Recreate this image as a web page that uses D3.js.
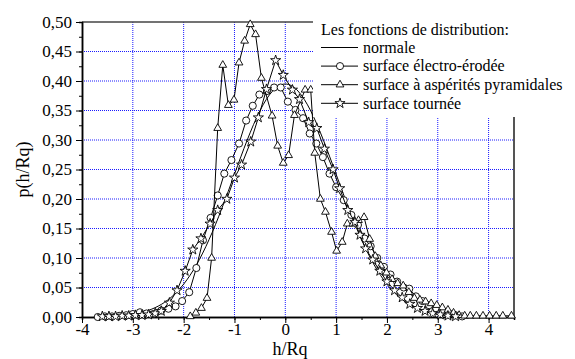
<!DOCTYPE html>
<html>
<head>
<meta charset="utf-8">
<script src="https://cdn.jsdelivr.net/npm/d3@7"></script>
<style>
  body { margin: 0; background: #fff; }
  svg text { font-family: "Liberation Serif", Tinos, "Times New Roman", Times, "DejaVu Serif", serif; fill: #000; }
</style>
</head>
<body>
<svg id="chart" width="575" height="359"></svg>
<script>
// values
var xTicks = [-4, -3, -2, -1, 0, 1, 2, 3, 4];
var yTicks = [0, 0.05, 0.10, 0.15, 0.20, 0.25, 0.30, 0.35, 0.40, 0.45, 0.50];

var normalX = [-3.75, -3.5, -3.25, -3, -2.75, -2.5, -2.25, -2, -1.75, -1.5, -1.25, -1, -0.75, -0.5, -0.25, 0,
  0.25, 0.5, 0.75, 1, 1.25, 1.5, 1.75, 2, 2.25, 2.5, 2.75, 3, 3.25, 3.5, 3.75];
var normalY = [0.0004, 0.0009, 0.002, 0.0044, 0.009, 0.0175, 0.0317, 0.054, 0.0863, 0.1295, 0.1826, 0.242, 0.3011, 0.3521, 0.3867, 0.399,
  0.3867, 0.3521, 0.3011, 0.242, 0.1826, 0.1295, 0.0863, 0.054, 0.0317, 0.0175, 0.009, 0.0044, 0.002, 0.0009, 0.0004];

var electroX = [-3.69, -3.55, -3.41, -3.27, -3.13, -3.0, -2.86, -2.73, -2.60, -2.44, -2.30, -2.16, -2.03, -1.89, -1.75, -1.62, -1.47, -1.33, -1.20,
  -1.06, -0.91, -0.77, -0.64, -0.51, -0.36, -0.22, -0.09, 0.05, 0.20, 0.35, 0.48, 0.61, 0.74, 0.87, 1.00, 1.15, 1.30, 1.43, 1.56, 1.68,
  1.81, 1.94, 2.07, 2.20, 2.33, 2.44, 2.57, 2.70, 2.83, 2.96, 3.09, 3.22, 3.35, 3.48];
var electroY = [0.000, 0.001, 0.001, 0.002, 0.003, 0.005, 0.008, 0.006, 0.005, 0.011, 0.014, 0.018, 0.027, 0.042, 0.083, 0.130, 0.168, 0.206, 0.243,
  0.266, 0.294, 0.333, 0.358, 0.377, 0.383, 0.389, 0.389, 0.365, 0.351, 0.337, 0.311, 0.294, 0.271, 0.243, 0.220, 0.198, 0.173, 0.156, 0.133, 0.120,
  0.100, 0.085, 0.072, 0.060, 0.050, 0.048, 0.035, 0.027, 0.020, 0.015, 0.010, 0.006, 0.003, 0.001];

var pyramX = [-1.87, -1.76, -1.65, -1.54, -1.45, -1.33, -1.23, -1.12, -1.01, -0.91, -0.80, -0.69, -0.585, -0.47, -0.26, -0.15, -0.04, 0.065, 0.18,
  0.39, 0.50, 0.58, 0.69, 0.79, 0.91, 1.01, 1.12, 1.22, 1.33, 1.44, 1.55, 1.66, 1.77, 1.88, 1.99, 2.10, 2.21, 2.32, 2.43, 2.54, 2.65,
  2.76, 2.87, 2.98, 3.09, 3.20, 3.31, 3.42, 3.53, 3.64, 3.76, 3.89, 4.02, 4.15, 4.28, 4.45];
var pyramY = [0.001, 0.007, 0.015, 0.032, 0.100, 0.320, 0.427, 0.359, 0.368, 0.431, 0.468, 0.496, 0.479, 0.405, 0.341, 0.290, 0.261, 0.274, 0.342,
  0.385, 0.385, 0.278, 0.200, 0.178, 0.144, 0.112, 0.127, 0.158, 0.158, 0.164, 0.169, 0.132, 0.103, 0.087, 0.075, 0.064, 0.057, 0.053, 0.042, 0.032, 0.029,
  0.026, 0.023, 0.020, 0.016, 0.012, 0.007, 0.003, 0.002, 0.002, 0.002, 0.002, 0.002, 0.002, 0.002, 0.002];

var tourneeX = [-3.60, -3.47, -3.34, -3.21, -3.08, -2.95, -2.82, -2.69, -2.56, -2.44, -2.28, -2.13, -1.97, -1.82, -1.66, -1.48, -1.33, -1.15, -1.00,
  -0.86, -0.68, -0.53, -0.37, -0.19, -0.04, 0.14, 0.28, 0.46, 0.62, 0.77, 0.94, 1.07, 1.23, 1.37, 1.47, 1.58, 1.72, 1.86, 2.00, 2.15, 2.30,
  2.45, 2.60, 2.75, 2.90, 3.05, 3.20, 3.35];
var tourneeY = [0.001, 0.001, 0.001, 0.002, 0.002, 0.003, 0.003, 0.004, 0.006, 0.010, 0.024, 0.045, 0.078, 0.114, 0.133, 0.158, 0.181, 0.200, 0.236,
  0.258, 0.297, 0.338, 0.386, 0.435, 0.410, 0.385, 0.369, 0.330, 0.320, 0.285, 0.250, 0.218, 0.181, 0.161, 0.139, 0.116, 0.097, 0.078, 0.060, 0.045, 0.033,
  0.022, 0.015, 0.010, 0.006, 0.004, 0.002, 0.001];

var legendTitle = "Les fonctions de distribution:";
var legendNames = ["normale", "surface électro-érodée", "surface à aspérités pyramidales", "surface tournée"];

var svg = d3.select("#chart");

var margin = {top: 22, right: 61, bottom: 42, left: 82};
var plotWidth = 575 - margin.left - margin.right;
var plotHeight = 359 - margin.top - margin.bottom;

var xScale = d3.scaleLinear().domain([-4, 4.5]).range([0, plotWidth]);
var yScale = d3.scaleLinear().domain([0, 0.5]).range([plotHeight, 0]);

var loc = d3.formatLocale({decimal: ",", thousands: ".", grouping: [3], currency: ["", ""], minus: "-"});

var plot = svg.append("g")
  .attr("transform", "translate(" + margin.left + "," + margin.top + ")");

// dotted blue grid
plot.append("g").selectAll("line")
  .data(xTicks.filter(function(d){ return d > -4; }))
  .enter().append("line")
  .attr("x1", function(d){ return xScale(d); })
  .attr("x2", function(d){ return xScale(d); })
  .attr("y1", 0).attr("y2", plotHeight)
  .attr("stroke", "#1a1aff").attr("stroke-width", 1)
  .attr("stroke-dasharray", "1,1");
plot.append("g").selectAll("line")
  .data(yTicks.filter(function(d){ return d > 0 && d < 0.5; }))
  .enter().append("line")
  .attr("x1", 0).attr("x2", plotWidth)
  .attr("y1", function(d){ return yScale(d); })
  .attr("y2", function(d){ return yScale(d); })
  .attr("stroke", "#1a1aff").attr("stroke-width", 1)
  .attr("stroke-dasharray", "1,1");

// frame top / right
plot.append("line").attr("x1", 0).attr("x2", plotWidth).attr("y1", 0).attr("y2", 0)
  .attr("stroke", "#444").attr("stroke-width", 1.5);
plot.append("line").attr("x1", plotWidth).attr("x2", plotWidth).attr("y1", 0).attr("y2", plotHeight)
  .attr("stroke", "#555").attr("stroke-width", 2);

// axes
var minorX = d3.range(-4, 4.51, 0.5);
var minorY = d3.range(0, 0.501, 0.025);

var xMinor = plot.append("g").attr("transform", "translate(0," + plotHeight + ")")
  .call(d3.axisBottom(xScale).tickValues(minorX).tickSize(3).tickFormat(""));
var xGroup = plot.append("g").attr("id", "x-axis")
  .attr("transform", "translate(0," + plotHeight + ")")
  .call(d3.axisBottom(xScale).tickValues(xTicks).tickSize(6).tickSizeOuter(0).tickFormat(loc.format("d")));
var yMinor = plot.append("g")
  .call(d3.axisLeft(yScale).tickValues(minorY).tickSize(3).tickFormat(""));
var yGroup = plot.append("g").attr("id", "y-axis")
  .call(d3.axisLeft(yScale).tickValues(yTicks).tickSize(6).tickSizeOuter(0).tickFormat(loc.format(".2f")));

[xMinor, xGroup, yMinor, yGroup].forEach(function(g){
  g.attr("font-family", null).attr("font-size", 17);
  g.select(".domain").attr("stroke", "#000").attr("stroke-width", 1.5);
  g.selectAll(".tick line").attr("stroke", "#000").attr("stroke-width", 1);
  g.selectAll("text").attr("fill", "#000");
});
xGroup.selectAll("text").attr("dy", "0.71em").attr("y", 6);
yGroup.selectAll("text").attr("x", -10);

// legend background hides grid and frame
svg.append("rect").attr("x", 313).attr("y", 0).attr("width", 262).attr("height", 117).attr("fill", "#fff");

// series
var series = [
  {xs: normalX, ys: normalY, sym: null},
  {xs: electroX, ys: electroY, sym: d3.symbolCircle, size: 40},
  {xs: pyramX, ys: pyramY, sym: d3.symbolTriangle, size: 26},
  {xs: tourneeX, ys: tourneeY, sym: d3.symbolStar, size: 32}
];

series.forEach(function(s, i){
  var pts = s.xs.map(function(x, j){ return [x, s.ys[j]]; });
  var plotLine = d3.line()
    .x(function(d){ return xScale(d[0]); })
    .y(function(d){ return yScale(d[1]); })
    .curve(s.sym ? d3.curveLinear : d3.curveBasis);
  plot.append("path")
    .attr("d", plotLine(pts))
    .attr("fill", "none").attr("stroke", "#000").attr("stroke-width", 1);
  if (s.sym) {
    plot.append("g").selectAll("path")
      .data(pts).enter().append("path")
      .attr("d", d3.symbol().type(s.sym).size(s.size))
      .attr("transform", function(d){ return "translate(" + xScale(d[0]) + "," + yScale(d[1]) + ")"; })
      .attr("fill", "#fff").attr("stroke", "#000").attr("stroke-width", 0.9);
  }
});

// legend
svg.append("text")
  .attr("x", 321).attr("y", 35)
  .style("font-size", "16px")
  .text(legendTitle);

legendNames.forEach(function(name, i){
  var ly = 47.5 + i * 18.6;
  svg.append("line").attr("x1", 321).attr("x2", 358).attr("y1", ly).attr("y2", ly)
    .attr("stroke", "#000").attr("stroke-width", 1);
  if (series[i].sym) {
    svg.append("path")
      .attr("d", d3.symbol().type(series[i].sym).size(series[i].size)())
      .attr("transform", "translate(340," + ly + ")")
      .attr("fill", "#fff").attr("stroke", "#000").attr("stroke-width", 0.9);
  }
  svg.append("text")
    .attr("x", 363).attr("y", ly + 5.3)
    .style("font-size", "16px")
    .text(name);
});

// axis titles
svg.append("text")
  .style("font-size", "18px")
  .attr("x", 290).attr("y", 355)
  .style("text-anchor", "middle")
  .text("h/Rq");

svg.append("text")
  .style("font-size", "18px")
  .attr("transform", "rotate(-90)")
  .attr("y", 29)
  .attr("x", -(margin.top + plotHeight / 2))
  .style("text-anchor", "middle")
  .text("p(h/Rq)");
</script>
</body>
</html>
